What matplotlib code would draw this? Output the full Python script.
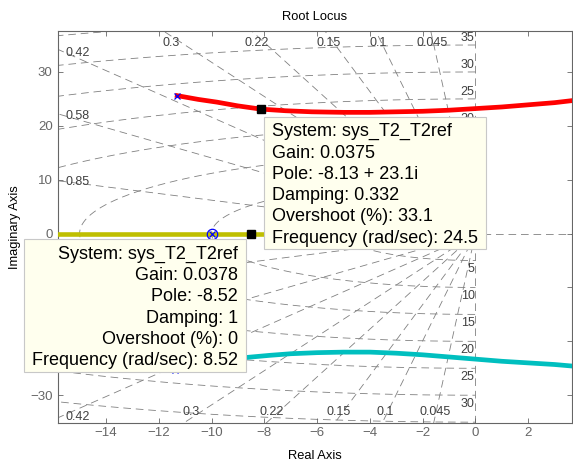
import numpy as np
import matplotlib
matplotlib.use('Agg')
import matplotlib.pyplot as plt
from matplotlib.patches import Rectangle
from matplotlib.transforms import IdentityTransform

plt.rcParams['font.family'] = ['Liberation Sans', 'DejaVu Sans']
plt.rcParams['lines.scale_dashes'] = False

# root locus branches
red_re = [-11.3, -10.5, -9.8, -9.0, -8.13, -7.2, -6.2, -5.0, -4.0, -3.0, -2.0, -1.0, 0.0, 1.0, 2.0, 3.0, 3.7]
red_im = [25.6, 24.9, 24.4, 23.7, 23.1, 22.8, 22.6, 22.5, 22.5, 22.6, 22.7, 22.9, 23.2, 23.5, 23.9, 24.3, 24.7]
cyan_re = [-11.4, -10.4, -9.5, -8.7, -7.8, -7.0, -6.0, -5.0, -4.0, -3.0, -2.0, -1.0, 0.0, 1.0, 2.0, 3.0, 3.7]
cyan_im = [-25.4, -24.3, -23.5, -23.0, -22.6, -22.3, -22.1, -22.0, -22.0, -22.2, -22.5, -22.9, -23.3, -23.7, -24.0, -24.3, -24.6]
real_re = [-17.0, -7.9]
real_im = [0.0, 0.0]

poles_re = [-11.3, -11.4, -10.0]
poles_im = [25.6, -25.4, 0.0]
zeros_re = [-10.0]
zeros_im = [0.0]

# sgrid
zetas = [0.045, 0.1, 0.15, 0.22, 0.3, 0.42, 0.58, 0.85]
wns = [5, 10, 15, 20, 25, 30, 35, 40]

# data tips
tip_top = (-8.13, 23.1)
tip_bot = (-8.52, 0.0)
text_top = ("System: sys_T2_T2ref\nGain: 0.0375\nPole: -8.13 + 23.1i\n"
            "Damping: 0.332\nOvershoot (%): 33.1\nFrequency (rad/sec): 24.5")
text_bot = ("System: sys_T2_T2ref\nGain: 0.0378\nPole: -8.52\n"
            "Damping: 1\nOvershoot (%): 0\nFrequency (rad/sec): 8.52")

xlim = (-15.83, 3.64)
ylim = (-35.1, 37.6)
axcol = '#666666'
gcol = '#808080'
lcol = '#404040'
dash = (0, (5.5, 3.5))

fig = plt.figure(figsize=(5.73, 4.66), dpi=100)
ax = fig.add_axes([57.7 / 573, 1 - 422.7 / 466, (571.5 - 57.7) / 573, (422.7 - 31) / 466])
ax.set_xlim(xlim)
ax.set_ylim(ylim)

grid_labels = []

# damping lines
for z in zetas:
    s = np.sqrt(1 - z ** 2) / z
    for sg in (1, -1):
        ax.plot([0, -100 * z], [0, sg * 100 * np.sqrt(1 - z ** 2)], color=gcol, lw=0.6, ls=dash, zorder=1)
    xl = xlim[0] + 0.3
    if s * abs(xlim[0]) < ylim[1]:
        t = ax.text(xl, -s * xl, f'{z:g}', ha='left', va='center', fontsize=9, color=lcol, zorder=2)
    else:
        yl = ylim[1] - 0.9
        t = ax.text(-yl / s, yl - 0.3, f'{z:g}', ha='center', va='top', fontsize=9, color=lcol, zorder=2)
    grid_labels.append(t)
    if s * abs(xlim[0]) < -ylim[0]:
        t = ax.text(xl, s * xl - 0.4, f'{z:g}', ha='left', va='center', fontsize=9, color=lcol, zorder=2)
    else:
        yl = ylim[0] + 0.9
        t = ax.text(yl / s, yl - 0.1, f'{z:g}', ha='center', va='bottom', fontsize=9, color=lcol, zorder=2)
    grid_labels.append(t)
ax.axvline(0, color=gcol, lw=0.6, ls=dash, zorder=1)
ax.axhline(0, color=gcol, lw=0.6, ls=dash, zorder=1)

# natural frequency arcs
th = np.linspace(np.pi / 2, 3 * np.pi / 2, 300)
for w in wns:
    ax.plot(w * np.cos(th), w * np.sin(th), color=gcol, lw=0.6, ls=dash, zorder=1)
    if w + 2 < ylim[1]:
        grid_labels.append(ax.text(-0.03, w + 0.1, str(w), ha='right', va='bottom', fontsize=9,
                                   color=lcol, clip_on=True, zorder=2))
    if -w - 2 > ylim[0]:
        grid_labels.append(ax.text(-0.03, -w - 0.5, str(w), ha='right', va='top', fontsize=9,
                                   color=lcol, clip_on=True, zorder=2))

# locus
ax.plot(real_re, real_im, color='#bfbf00', lw=3.3, solid_capstyle='butt', zorder=3)
ax.plot(red_re, red_im, color='#ff0000', lw=3.4, zorder=3)
ax.plot(cyan_re, cyan_im, color='#00bfbf', lw=3.4, zorder=3)
ax.plot(poles_re, poles_im, ls='none', marker='x', color='#0000ff', ms=4.5, mew=0.9, zorder=4)
ax.plot(zeros_re, zeros_im, ls='none', marker='o', mfc='none', mec='#0000ff', ms=7.5, mew=0.9, zorder=4)
ax.plot([tip_top[0], tip_bot[0]], [tip_top[1], tip_bot[1]], ls='none', marker='s', color='black', ms=6, zorder=5)

# axes styling
ax.set_xticks(np.arange(-14, 3, 2))
ax.set_yticks(np.arange(-30, 31, 10))
ax.tick_params(direction='in', top=True, right=True, length=3.6, width=0.6,
               colors=axcol, labelsize=9.5, pad=3.6)
ax.tick_params(axis='x', pad=3.0)
for sp in ax.spines.values():
    sp.set_color(axcol)
    sp.set_linewidth(0.8)
ax.set_title('Root Locus', fontsize=9.3, pad=8.2)
ax.set_xlabel('Real Axis', fontsize=9.3)
ax.set_ylabel('Imaginary Axis', fontsize=9.3)
ax.xaxis.set_label_coords(0.5, -0.069)
ax.yaxis.set_label_coords(-0.0723, 0.5)

# data tip boxes
t1 = ax.annotate(text_top, xy=tip_top, xytext=(11, -14), textcoords='offset pixels',
                 ha='left', va='top', fontsize=13, linespacing=1.33, zorder=11,
                 annotation_clip=False, clip_on=False)
t2 = ax.annotate(text_bot, xy=tip_bot, xytext=(-12.7, -12), textcoords='offset pixels',
                 ha='right', va='top', multialignment='right', fontsize=13, linespacing=1.33,
                 zorder=11, annotation_clip=False, clip_on=False)
fig.canvas.draw()
rend = fig.canvas.get_renderer()
boxes = []
for t in (t1, t2):
    bb = t.get_window_extent(rend)
    box = Rectangle((bb.x0 - 8.3, bb.y0 - 2.6), bb.width + 16.6, bb.height + 9.1,
                    transform=IdentityTransform(), fc='#ffffee', ec='#c8c8c8', lw=0.8,
                    zorder=10, clip_on=False)
    ax.add_artist(box)
    boxes.append(box.get_window_extent(rend))

# labels fully covered by a data tip are not seen
for t in grid_labels + ax.get_yticklabels():
    lb = t.get_window_extent(rend)
    for b in boxes:
        if b.x0 <= lb.x0 and lb.x1 <= b.x1 and b.y0 <= lb.y0 and lb.y1 <= b.y1:
            t.set_visible(False)

fig.savefig('out.png', dpi=100)
